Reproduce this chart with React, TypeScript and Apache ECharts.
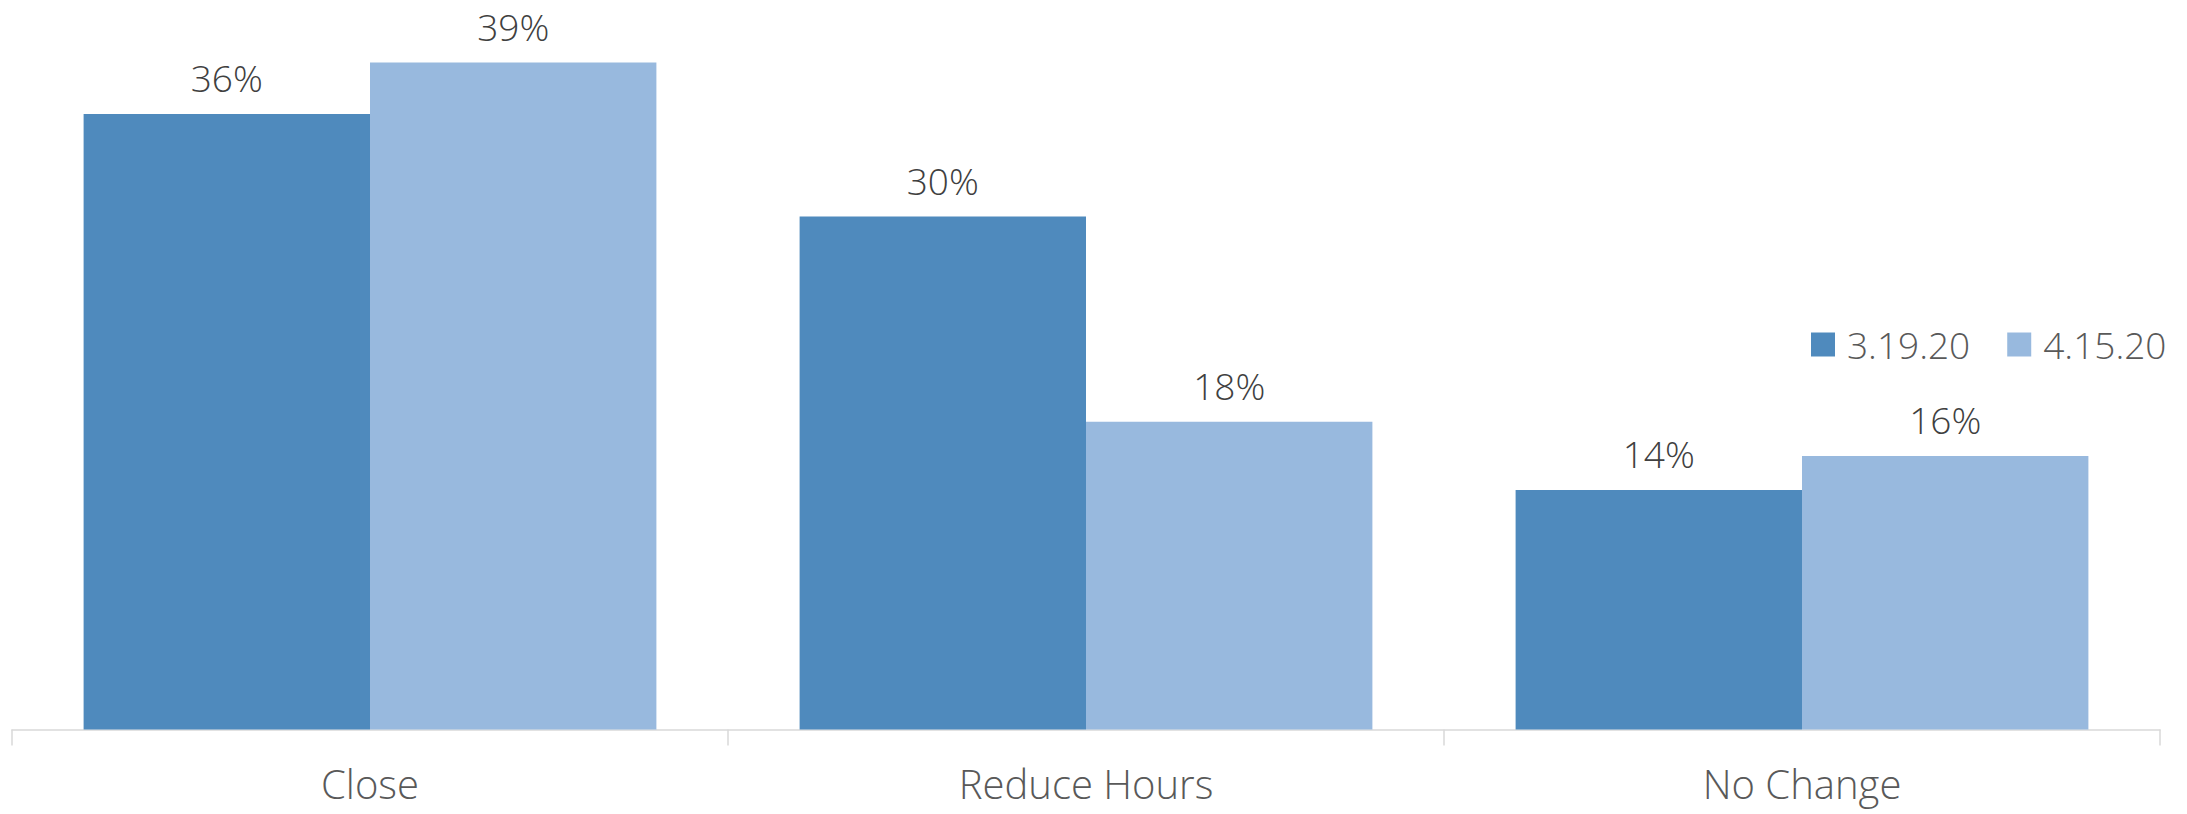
import React, { useEffect, useRef } from "react";
import * as echarts from "echarts";

// Survey responses by business action, two survey waves
const categories = ["Close", "Reduce Hours", "No Change"];
const seriesNames = ["3.19.20", "4.15.20"];
const wave1 = [36, 30, 14];
const wave2 = [39, 18, 16];
const seriesColors = ["#4F8ABD", "#98B9DE"];

const FONT = "'Open Sans', 'Noto Sans', sans-serif";

export default function App() {
  const ref = useRef<HTMLDivElement>(null);

  useEffect(() => {
    if (!ref.current) return;
    const chart = echarts.init(ref.current, undefined, { renderer: "svg" });
    const values = [wave1, wave2];
    chart.setOption({
      animation: false,
      backgroundColor: "#FFFFFF",
      grid: { left: 12, right: 27, top: 45.5, bottom: 84.5, containLabel: false },
      legend: {
        left: 1806,
        top: 321,
        itemWidth: 24,
        itemHeight: 24,
        itemGap: 37,
        icon: "rect",
        data: seriesNames,
        textStyle: {
          fontFamily: FONT,
          fontWeight: 300,
          fontSize: 37,
          color: "#595959",
          padding: [0, 0, 0, 7],
        },
      },
      xAxis: {
        type: "category",
        data: categories,
        axisLine: { show: true, lineStyle: { color: "#D9D9D9", width: 1.5 } },
        axisTick: { show: true, length: 16, lineStyle: { color: "#D9D9D9", width: 1.5 } },
        axisLabel: {
          fontFamily: FONT,
          fontWeight: 300,
          fontSize: 40,
          color: "#595959",
          margin: 34,
        },
      },
      yAxis: {
        type: "value",
        min: 0,
        max: 40,
        show: false,
        splitLine: { show: false },
      },
      series: seriesNames.map((name, i) => ({
        name,
        type: "bar",
        data: values[i],
        barGap: "0%",
        barCategoryGap: "20%",
        itemStyle: { color: seriesColors[i] },
        label: {
          show: true,
          position: "top",
          distance: 18,
          formatter: "{c}%",
          fontFamily: FONT,
          fontWeight: 300,
          fontSize: 37,
          color: "#404040",
        },
      })),
    });
    return () => chart.dispose();
  }, []);

  return (
    <div
      ref={ref}
      style={{ position: "fixed", left: 0, top: 0, width: 2187, height: 814, background: "#FFFFFF" }}
    />
  );
}
